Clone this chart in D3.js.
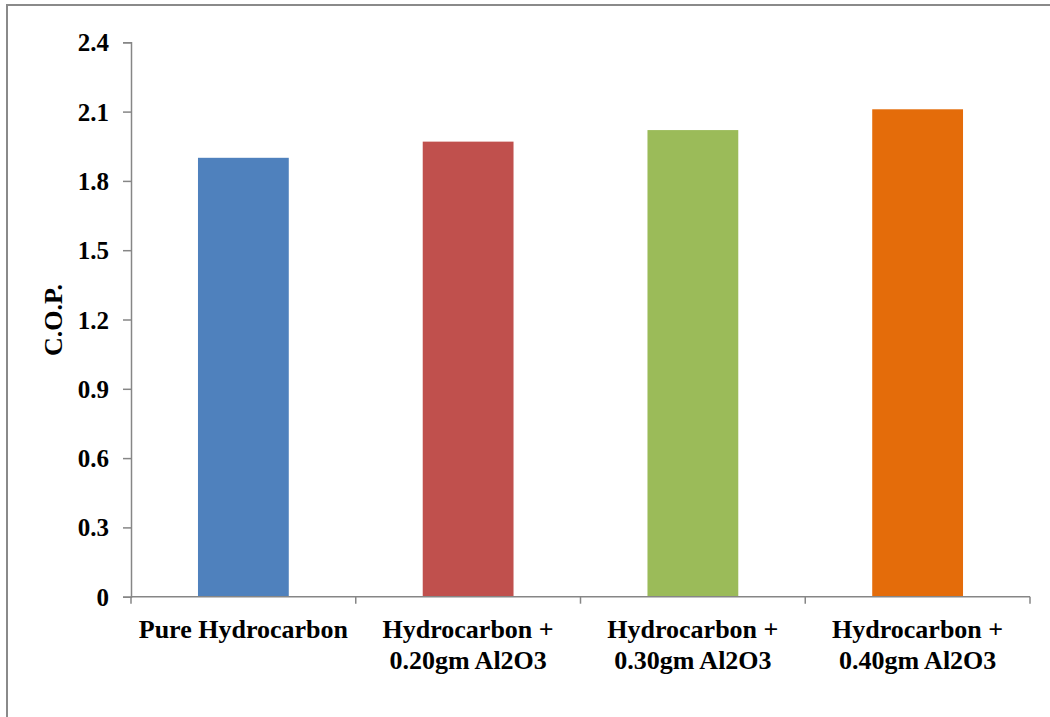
<!DOCTYPE html>
<html>
<head>
<meta charset="utf-8">
<script src="https://cdn.jsdelivr.net/npm/d3@7"></script>
<style>
  html, body { margin: 0; padding: 0; background: #fff; }
  svg { display: block; }
  svg text { font-family: "Liberation Serif", "Times New Roman", Times, "DejaVu Serif", serif; font-weight: 700; fill: #000; }
</style>
</head>
<body>
<svg id="chart" width="1050" height="717"></svg>
<script>
const categories = [
  ["Pure Hydrocarbon"],
  ["Hydrocarbon +", "0.20gm Al2O3"],
  ["Hydrocarbon +", "0.30gm Al2O3"],
  ["Hydrocarbon +", "0.40gm Al2O3"]
];
const copValues = [1.90, 1.97, 2.02, 2.11];
const barColors = ["#4f81bd", "#c0504d", "#9bbb59", "#e46c0a"];
const yTicks = [0, 0.3, 0.6, 0.9, 1.2, 1.5, 1.8, 2.1, 2.4];
const yTitle = "C.O.P.";

const svg = d3.select("#chart");
const axisColor = "#868686";

// outer border
svg.append("rect")
  .attr("x", 7).attr("y", 5)
  .attr("width", 1060).attr("height", 730)
  .attr("fill", "none").attr("stroke", "#8a8a8a").attr("stroke-width", 2);

const plotLeft = 131, plotRight = 1030, plotTop = 42.3, plotBottom = 596.7;
const ids = categories.map((d, i) => i);

const x = d3.scaleBand().domain(ids).range([plotLeft, plotRight]).paddingInner(0).paddingOuter(0);
const y = d3.scaleLinear().domain([0, 2.4]).range([plotBottom, plotTop]);

// bars
const barW = x.bandwidth() * 0.404;
svg.append("g").selectAll("rect")
  .data(copValues)
  .join("rect")
  .attr("x", (d, i) => x(i) + (x.bandwidth() - barW) / 2)
  .attr("y", d => y(d))
  .attr("width", barW)
  .attr("height", d => y(0) - y(d))
  .attr("fill", (d, i) => barColors[i]);

// y axis
const yAxis = d3.axisLeft(y).tickValues(yTicks).tickSize(8).tickPadding(14)
  .tickFormat(d => d === 0 ? "0" : d3.format(".1f")(d));
const gy = svg.append("g").attr("transform", `translate(${plotLeft},0)`).call(yAxis);
gy.attr("font-family", null).attr("font-size", null);
gy.select(".domain").attr("stroke", axisColor).attr("stroke-width", 1.5);
gy.selectAll(".tick line").attr("stroke", axisColor).attr("stroke-width", 1.5);
gy.selectAll(".tick text")
  .attr("fill", "#000").attr("dy", "0.34em")
  .style("font-size", "25px");

// x axis line with boundary ticks
const boundaries = ids.map(i => x(i)).concat([plotRight]);
svg.append("line")
  .attr("x1", plotLeft).attr("x2", plotRight).attr("y1", plotBottom).attr("y2", plotBottom)
  .attr("stroke", axisColor).attr("stroke-width", 1.5);
svg.append("g").selectAll("line")
  .data(boundaries)
  .join("line")
  .attr("x1", d => d).attr("x2", d => d)
  .attr("y1", plotBottom).attr("y2", plotBottom + 7)
  .attr("stroke", axisColor).attr("stroke-width", 1.5);

// x labels
const xl = svg.append("g").selectAll("text")
  .data(categories)
  .join("text")
  .attr("text-anchor", "middle")
  .style("font-size", "26px");
xl.each(function(lines, i) {
  const t = d3.select(this);
  lines.forEach((ln, j) => {
    t.append("tspan")
      .attr("x", x(i) + x.bandwidth() / 2)
      .attr("y", 638 + j * 31)
      .text(ln);
  });
});

// y title
svg.append("text")
  .attr("transform", `translate(62,320) rotate(-90)`)
  .attr("text-anchor", "middle")
  .style("font-size", "26px")
  .text(yTitle);
</script>
</body>
</html>
